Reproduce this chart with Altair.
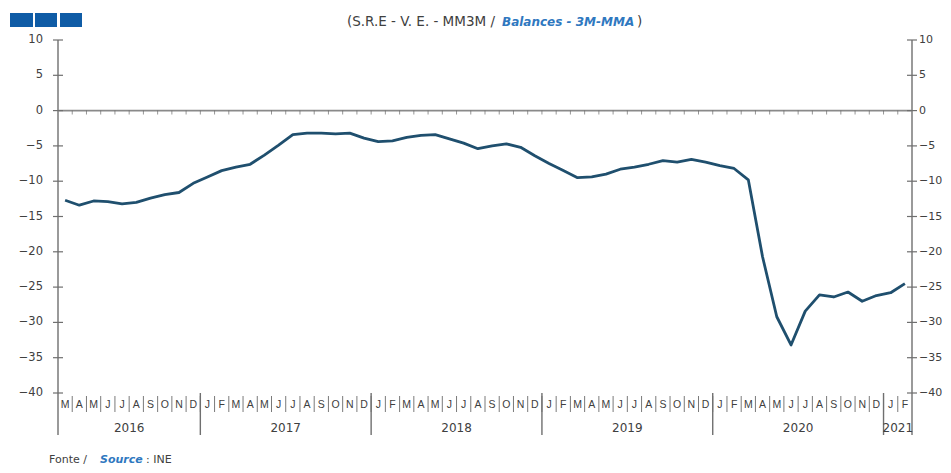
import altair as alt
import pandas as pd

# ---------------- data ----------------
MONTH_INITIALS = ["J", "F", "M", "A", "M", "J", "J", "A", "S", "O", "N", "D"]
START_YEAR = 2016
START_MONTH_INDEX = 2  # March
YEARS = [2016, 2017, 2018, 2019, 2020, 2021]
VALUES = [
    -12.7, -13.4, -12.8, -12.9, -13.2, -13.0, -12.4, -11.9, -11.6, -10.3,          # 2016 (Mar-Dec)
    -9.4, -8.5, -8.0, -7.6, -6.3, -4.9, -3.4, -3.2, -3.2, -3.3, -3.2, -3.9,        # 2017
    -4.4, -4.3, -3.8, -3.5, -3.4, -4.0, -4.6, -5.4, -5.0, -4.7, -5.2, -6.4,        # 2018
    -7.5, -8.5, -9.5, -9.4, -9.0, -8.3, -8.0, -7.6, -7.1, -7.3, -6.9, -7.3,        # 2019
    -7.8, -8.2, -9.8, -20.7, -29.2, -33.2, -28.4, -26.1, -26.4, -25.7, -27.0, -26.2,  # 2020
    -25.8, -24.5,                                                                # 2021 (Jan-Feb)
]
Y_TICKS = [10, 5, 0, -5, -10, -15, -20, -25, -30, -35, -40]
TITLE_PLAIN = "(S.R.E - V. E. - MM3M /"
TITLE_EN = "Balances - 3M-MMA"
SOURCE_PT = "Fonte /"
SOURCE_EN = "Source"
SOURCE_TXT = ": INE"

N = len(VALUES)
rows = []
for k, v in enumerate(VALUES):
    m = (START_MONTH_INDEX + k) % 12
    y = START_YEAR + (START_MONTH_INDEX + k) // 12
    rows.append({"k": k, "xc": k + 0.5, "month": MONTH_INITIALS[m], "year": y, "value": v})
df = pd.DataFrame(rows)

# year spans
yr = df.groupby("year")["k"].agg(["min", "max"]).reset_index()
yr["center"] = (yr["min"] + yr["max"] + 1) / 2.0
year_df = yr[["year", "center"]].copy()
year_df["label"] = year_df["year"].astype(str)
year_bounds = pd.DataFrame({"b": [int(b) for b in yr["min"] if b > 0]})
month_bounds = pd.DataFrame({"b": list(range(1, N))})
ytick_df = pd.DataFrame({"v": Y_TICKS})

# ---------------- styling ----------------
W, H = 854, 353
LINE_COLOR = "#1f4f6e"
AXIS_COLOR = "#6f6f6f"
TEXT_COLOR = "#404040"
BLUE_TXT = "#2f78bf"
SQUARE_COLOR = "#0f5ca6"
FONT = "DejaVu Sans"

xs = alt.Scale(domain=[0, N], zero=False, nice=False)
ys = alt.Scale(domain=[-40, 10], zero=False, nice=False)
X = lambda f: alt.X(f, scale=xs, axis=None)
Y = lambda f: alt.Y(f, scale=ys, axis=None)

one = alt.Data(values=[{"a": 1}])

layers = []

# vertical axis lines
for xv in (0, W):
    layers.append(
        alt.Chart(one).mark_rule(color=AXIS_COLOR, strokeWidth=1.4).encode(
            x=alt.value(xv), y=alt.value(0), y2=alt.value(395)
        )
    )

# zero line
layers.append(
    alt.Chart(alt.Data(values=[{"z": 0}])).mark_rule(color="#8a8a8a", strokeWidth=1.6).encode(
        y=Y("z:Q"), x=alt.value(0), x2=alt.value(W)
    )
)
# small ticks on zero line
layers.append(
    alt.Chart(month_bounds.assign(z=0)).mark_tick(
        orient="vertical", size=4, thickness=1, color="#6a6a6a", yOffset=2
    ).encode(x=X("b:Q"), y=Y("z:Q"))
)

# y ticks (crossing) and labels, both sides
for x1, x2, lx, al, fs in ((-5, 5, -15, "right", 11.5), (W - 5, W + 5, W + 7, "left", 11)):
    layers.append(
        alt.Chart(ytick_df).mark_rule(color=AXIS_COLOR, strokeWidth=1.2).encode(
            y=Y("v:Q"), x=alt.value(x1), x2=alt.value(x2)
        )
    )
    layers.append(
        alt.Chart(ytick_df).mark_text(
            align=al, baseline="middle", font=FONT, fontSize=fs, color=TEXT_COLOR
        ).encode(y=Y("v:Q"), x=alt.value(lx), text=alt.Text("v:Q", format="d"))
    )

# month separators and labels
layers.append(
    alt.Chart(month_bounds).mark_rule(color="#7a7a7a", strokeWidth=1).encode(
        x=X("b:Q"), y=alt.value(356), y2=alt.value(372)
    )
)
layers.append(
    alt.Chart(df).mark_text(
        baseline="middle", align="center", font="Liberation Sans", fontSize=10.5, color=TEXT_COLOR
    ).encode(x=X("xc:Q"), y=alt.value(365), text="month:N")
)
# year separators and labels
layers.append(
    alt.Chart(year_bounds).mark_rule(color=AXIS_COLOR, strokeWidth=1.4).encode(
        x=X("b:Q"), y=alt.value(353), y2=alt.value(395)
    )
)
layers.append(
    alt.Chart(year_df).mark_text(
        baseline="middle", align="center", font=FONT, fontSize=12, color=TEXT_COLOR
    ).encode(x=X("center:Q"), y=alt.value(388), text="label:N")
)

# data line
layers.append(
    alt.Chart(df).mark_line(color=LINE_COLOR, strokeWidth=2.8, strokeJoin="round").encode(
        x=X("xc:Q"), y=Y("value:Q")
    )
)

# title pieces
layers.append(
    alt.Chart(one).mark_text(
        text=TITLE_PLAIN, align="right", baseline="middle", font=FONT, fontSize=13.5, color=TEXT_COLOR
    ).encode(x=alt.value(437), y=alt.value(-18))
)
layers.append(
    alt.Chart(one).mark_text(
        text=TITLE_EN, align="left", baseline="middle", font=FONT, fontSize=12,
        fontWeight="bold", fontStyle="italic", color=BLUE_TXT
    ).encode(x=alt.value(444), y=alt.value(-18))
)
layers.append(
    alt.Chart(one).mark_text(
        text=")", align="left", baseline="middle", font=FONT, fontSize=13.5, color=TEXT_COLOR
    ).encode(x=alt.value(579), y=alt.value(-18))
)

# three blue squares (logo)
for sx1, sx2 in ((-48, -25), (-23, -1), (2, 24)):
    layers.append(
        alt.Chart(one).mark_rect(color=SQUARE_COLOR).encode(
            x=alt.value(sx1), x2=alt.value(sx2), y=alt.value(-27), y2=alt.value(-13)
        )
    )

# source footer
layers.append(
    alt.Chart(one).mark_text(
        text=SOURCE_PT, align="left", baseline="bottom", font=FONT, fontSize=11, color=TEXT_COLOR
    ).encode(x=alt.value(-9), y=alt.value(425))
)
layers.append(
    alt.Chart(one).mark_text(
        text=SOURCE_EN, align="left", baseline="bottom", font=FONT, fontSize=11,
        fontWeight="bold", fontStyle="italic", color=BLUE_TXT
    ).encode(x=alt.value(42), y=alt.value(425))
)
layers.append(
    alt.Chart(one).mark_text(
        text=SOURCE_TXT, align="left", baseline="bottom", font=FONT, fontSize=11, color=TEXT_COLOR
    ).encode(x=alt.value(88), y=alt.value(425))
)

chart = (
    alt.layer(*layers)
    .properties(
        width=W,
        height=H,
        autosize=alt.AutoSizeParams(type="none"),
        padding={"left": 50, "top": 32, "right": 31, "bottom": 72},
        background="white",
    )
    .configure_view(stroke=None)
)

chart.save("out.html", embed_options={"renderer": "svg", "actions": False})
